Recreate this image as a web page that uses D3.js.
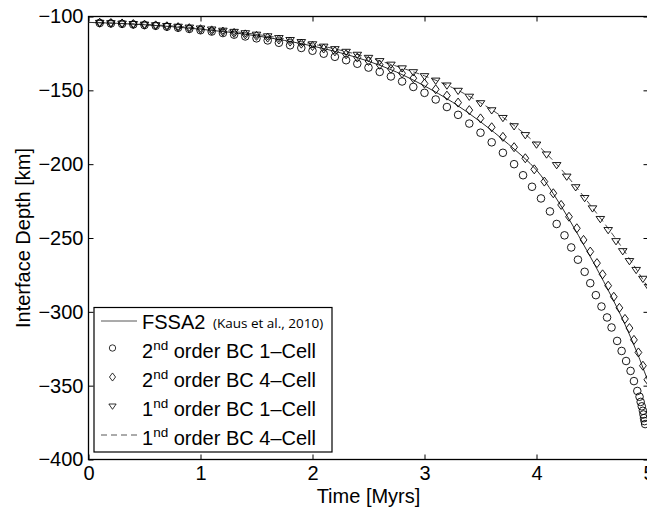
<!DOCTYPE html>
<html lang="en">
<head>
<meta charset="utf-8">
<title>Interface depth vs time</title>
<script src="https://d3js.org/d3.v7.min.js"></script>
<style>
  body { margin: 0; background: #fff; }
  svg { font-family: "Liberation Sans", Arial, Helvetica, sans-serif; }
  .axis text { font-size: 20px; fill: #000; }
  .axis path { display: none; }
  .axis line { stroke: #000; stroke-width: 1; }
</style>
</head>
<body>
<script>
// FSSA2 reference solution (Kaus et al., 2010)
var fssaT = [0, 0.25, 0.5, 0.75, 1.0, 1.25, 1.5, 1.75, 2.0, 2.25, 2.5, 2.75, 3.0, 3.25, 3.5, 3.75, 4.0, 4.15, 4.3, 4.45, 4.6, 4.75, 4.9, 5.0];
var fssaD = [-104.0, -104.6, -105.6, -106.9, -108.6, -110.6, -113.1, -116.2, -120.0, -124.6, -130.3, -137.6, -147.0, -158.0, -171.3, -186.5, -204.0, -220.0, -238.5, -258.5, -279.5, -302.0, -328.0, -348.0];

// 2nd order BC 1-Cell (circles)
var c1T = [0.1, 0.2, 0.3, 0.4, 0.5, 0.6, 0.7, 0.8, 0.9, 1.0, 1.1, 1.2, 1.3, 1.4, 1.5, 1.6, 1.7, 1.8, 1.9, 2.0,
           2.1, 2.2, 2.3, 2.4, 2.5, 2.6, 2.7, 2.8, 2.9, 3.0, 3.1, 3.2, 3.3, 3.4, 3.5, 3.6, 3.7, 3.8, 3.88, 3.96,
           4.04, 4.12, 4.18, 4.25, 4.31, 4.37, 4.43, 4.48, 4.53, 4.58, 4.63, 4.67, 4.72, 4.76, 4.8, 4.84, 4.87, 4.9,
           4.92, 4.93, 4.94, 4.95, 4.955, 4.96, 4.965, 4.97];
var c1D = [-104.4, -104.7, -105.0, -105.4, -105.8, -106.3, -106.9, -107.6, -108.4, -109.3, -110.2, -111.2, -112.3, -113.5, -114.8, -116.2, -117.8, -119.5, -121.3, -123.2,
           -125.2, -127.3, -129.6, -132.0, -134.6, -137.5, -140.6, -144.0, -147.7, -151.7, -156.2, -161.3, -166.6, -172.5, -178.7, -185.2, -192.3, -200.0, -207.5, -215.3,
           -223.2, -232.0, -240.5, -248.2, -256.4, -264.7, -272.9, -280.6, -288.7, -296.4, -303.8, -310.6, -319.7, -326.5, -333.3, -340.0, -346.9, -353.6,
           -357.5, -361.0, -364.0, -367.0, -369.5, -372.0, -374.0, -376.0];

// 2nd order BC 4-Cell (diamonds)
var d4T = [0.1, 0.2, 0.3, 0.4, 0.5, 0.6, 0.7, 0.8, 0.9, 1.0, 1.1, 1.2, 1.3, 1.4, 1.5, 1.6, 1.7, 1.8, 1.9, 2.0,
           2.1, 2.2, 2.3, 2.4, 2.5, 2.6, 2.7, 2.8, 2.9, 3.0, 3.1, 3.2, 3.3, 3.4, 3.5, 3.6, 3.7, 3.8, 3.9, 3.98,
           4.07, 4.15, 4.22, 4.29, 4.36, 4.42, 4.48, 4.54, 4.59, 4.64, 4.69, 4.74, 4.79, 4.83, 4.87, 4.91, 4.95, 4.99];
var d4D = [-104.2, -104.4, -104.7, -105.1, -105.5, -106.0, -106.6, -107.2, -107.9, -108.6, -109.4, -110.2, -111.1, -112.1, -113.1, -114.3, -115.6, -117.0, -118.4, -120.0,
           -121.7, -123.6, -125.6, -127.8, -130.1, -132.7, -135.5, -138.5, -141.8, -145.4, -149.3, -153.6, -158.3, -163.4, -169.0, -175.0, -181.5, -188.5, -196.0, -203.5,
           -211.8, -219.7, -227.6, -235.6, -243.4, -251.3, -259.2, -267.0, -274.6, -282.3, -289.8, -297.3, -304.8, -311.0, -319.0, -327.5, -336.5, -346.0];

// 1st order BC 1-Cell (triangles)
var t1T = [0.1, 0.2, 0.3, 0.4, 0.5, 0.6, 0.7, 0.8, 0.9, 1.0, 1.1, 1.2, 1.3, 1.4, 1.5, 1.6, 1.7, 1.8, 1.9, 2.0,
           2.1, 2.2, 2.3, 2.4, 2.5, 2.6, 2.7, 2.8, 2.9, 3.0, 3.1, 3.2, 3.3, 3.4, 3.5, 3.6, 3.7, 3.8, 3.9, 4.0,
           4.09, 4.18, 4.27, 4.35, 4.43, 4.5, 4.57, 4.64, 4.71, 4.77, 4.83, 4.89, 4.95, 5.0];
var t1D = [-104.2, -104.4, -104.7, -105.0, -105.4, -105.8, -106.3, -106.8, -107.4, -108.0, -108.7, -109.5, -110.3, -111.2, -112.2, -113.3, -114.5, -115.8, -117.2, -118.7,
           -120.3, -122.0, -123.8, -125.8, -127.9, -130.1, -132.5, -135.0, -137.6, -140.3, -143.3, -146.6, -150.2, -154.2, -158.6, -163.4, -168.6, -174.2, -180.2, -186.6,
           -193.3, -200.5, -208.3, -215.5, -222.8, -229.8, -237.0, -244.5, -252.0, -258.8, -265.5, -271.5, -277.5, -283.0];

// 1st order BC 4-Cell (dashed line)
var t4T = [0, 0.5, 1, 1.5, 2, 2.5, 3, 3.25, 3.5, 3.75, 4, 4.25, 4.5, 4.75, 5];
var t4D = [-104.0, -105.3, -107.9, -112.1, -118.6, -127.8, -140.2, -148.2, -158.4, -171.0, -186.4, -206.0, -229.6, -255.0, -284.0];

var xTicks = [0, 1, 2, 3, 4, 5];
var yTicks = [-100, -150, -200, -250, -300, -350, -400];

var w = 647, h = 508;
var pLeft = 88.5, pRight = 648.5, pTop = 16.5, pBottom = 459.5;

var x = d3.scaleLinear().domain([0, 5]).range([pLeft, pRight]);
var y = d3.scaleLinear().domain([-100, -400]).range([pTop, pBottom]);

var svg = d3.select("body").append("svg")
  .attr("width", w)
  .attr("height", h);

function zip(a, b) { return a.map(function(v, i) { return [v, b[i]]; }); }

//Axes, ticks pointing inward on all four sides
svg.append("g").attr("class", "axis")
  .attr("transform", "translate(0," + pBottom + ")")
  .call(d3.axisBottom(x).tickValues(xTicks).tickFormat(d3.format("d")).tickSize(-5).tickPadding(6));
svg.append("g").attr("class", "axis")
  .attr("transform", "translate(0," + pTop + ")")
  .call(d3.axisTop(x).tickValues(xTicks).tickSize(-5).tickFormat(""));
svg.append("g").attr("class", "axis")
  .attr("transform", "translate(" + pLeft + ",0)")
  .call(d3.axisLeft(y).tickValues(yTicks).tickFormat(d3.format("d")).tickSize(-5).tickPadding(5));
svg.append("g").attr("class", "axis")
  .attr("transform", "translate(" + pRight + ",0)")
  .call(d3.axisRight(y).tickValues(yTicks).tickSize(-5).tickFormat(""));

svg.append("rect")
  .attr("x", pLeft).attr("y", pTop)
  .attr("width", pRight - pLeft).attr("height", pBottom - pTop)
  .attr("fill", "none").attr("stroke", "#000").attr("stroke-width", 1.3);

//Axis titles
svg.append("text")
  .attr("x", (pLeft + pRight) / 2).attr("y", 503)
  .attr("text-anchor", "middle").attr("font-size", 20)
  .text("Time [Myrs]");
svg.append("text")
  .attr("transform", "translate(29.5," + ((pTop + pBottom) / 2) + ")rotate(-90)")
  .attr("text-anchor", "middle").attr("font-size", 20)
  .text("Interface Depth [km]");

//Lines
var line = d3.line()
  .x(function(d) { return x(d[0]); })
  .y(function(d) { return y(d[1]); })
  .curve(d3.curveCatmullRom);

svg.append("path").datum(zip(fssaT, fssaD))
  .attr("d", line).attr("fill", "none")
  .attr("stroke", "#111").attr("stroke-width", 0.9);
svg.append("path").datum(zip(t4T, t4D))
  .attr("d", line).attr("fill", "none")
  .attr("stroke", "#333").attr("stroke-width", 0.9)
  .attr("stroke-dasharray", "6,4");

//Marker shapes
function diamond(cx, cy, s) {
  var a = 3.4 * s, b = 4.5 * s;
  return "M" + cx + "," + (cy - b) + "L" + (cx + a) + "," + cy + "L" + cx + "," + (cy + b) + "L" + (cx - a) + "," + cy + "Z";
}
function triDown(cx, cy, s) {
  var a = 4.3 * s, b = 3.9 * s;
  return "M" + (cx - a) + "," + (cy - b * 0.6) + "L" + (cx + a) + "," + (cy - b * 0.6) + "L" + cx + "," + (cy + b) + "Z";
}

svg.append("g").selectAll("circle")
  .data(zip(c1T, c1D)).enter().append("circle")
  .attr("cx", function(d) { return x(d[0]); })
  .attr("cy", function(d) { return y(d[1]); })
  .attr("r", 3.8)
  .attr("fill", "none").attr("stroke", "#000").attr("stroke-width", 0.9);

svg.append("g").selectAll("path")
  .data(zip(d4T, d4D)).enter().append("path")
  .attr("d", function(d) { return diamond(x(d[0]), y(d[1]), 1); })
  .attr("fill", "none").attr("stroke", "#000").attr("stroke-width", 0.9);

svg.append("g").selectAll("path")
  .data(zip(t1T, t1D)).enter().append("path")
  .attr("d", function(d) { return triDown(x(d[0]), y(d[1]), 1); })
  .attr("fill", "none").attr("stroke", "#000").attr("stroke-width", 0.9);

//Legend
var lx = 94, ly = 307.5, lw = 238, lh = 144.5;
var lg = svg.append("g");
lg.append("rect")
  .attr("x", lx).attr("y", ly).attr("width", lw).attr("height", lh)
  .attr("fill", "#fff").attr("stroke", "#000").attr("stroke-width", 1.2);

var rows = [
  { kind: "line", pre: "FSSA2", sup: null, post: null },
  { kind: "circle", pre: "2", sup: "nd", post: " order BC 1\u2013Cell" },
  { kind: "diamond", pre: "2", sup: "nd", post: " order BC 4\u2013Cell" },
  { kind: "tri", pre: "1", sup: "nd", post: " order BC 1\u2013Cell" },
  { kind: "dash", pre: "1", sup: "nd", post: " order BC 4\u2013Cell" }
];

rows.forEach(function(r, i) {
  var base = 329 + 29 * i;
  var cy = i === 0 ? base - 8 : base - 10;
  var mx = 112.5;
  if (r.kind === "line" || r.kind === "dash") {
    lg.append("line")
      .attr("x1", 101).attr("x2", 137).attr("y1", cy).attr("y2", cy)
      .attr("stroke", "#444").attr("stroke-width", 0.9)
      .attr("stroke-dasharray", r.kind === "dash" ? "6,4" : null);
  } else if (r.kind === "circle") {
    lg.append("circle").attr("cx", mx).attr("cy", cy).attr("r", 3.2)
      .attr("fill", "none").attr("stroke", "#000").attr("stroke-width", 0.8);
  } else if (r.kind === "diamond") {
    lg.append("path").attr("d", diamond(mx, cy, 0.9))
      .attr("fill", "none").attr("stroke", "#000").attr("stroke-width", 0.8);
  } else {
    lg.append("path").attr("d", triDown(mx, cy, 0.85))
      .attr("fill", "none").attr("stroke", "#000").attr("stroke-width", 0.8);
  }
  var t = lg.append("text").attr("x", 142).attr("y", base).attr("font-size", 20);
  t.append("tspan").text(r.pre);
  if (r.sup) {
    t.append("tspan").attr("dy", -8).attr("font-size", 13.5).text(r.sup);
    t.append("tspan").attr("dy", 8).text(r.post);
  }
  if (i === 0) {
    lg.append("text").attr("x", 213).attr("y", base - 1)
      .attr("font-size", 13.5).attr("font-family", "'Open Sans', sans-serif")
      .text("(Kaus et al., 2010)");
  }
});
</script>
</body>
</html>
